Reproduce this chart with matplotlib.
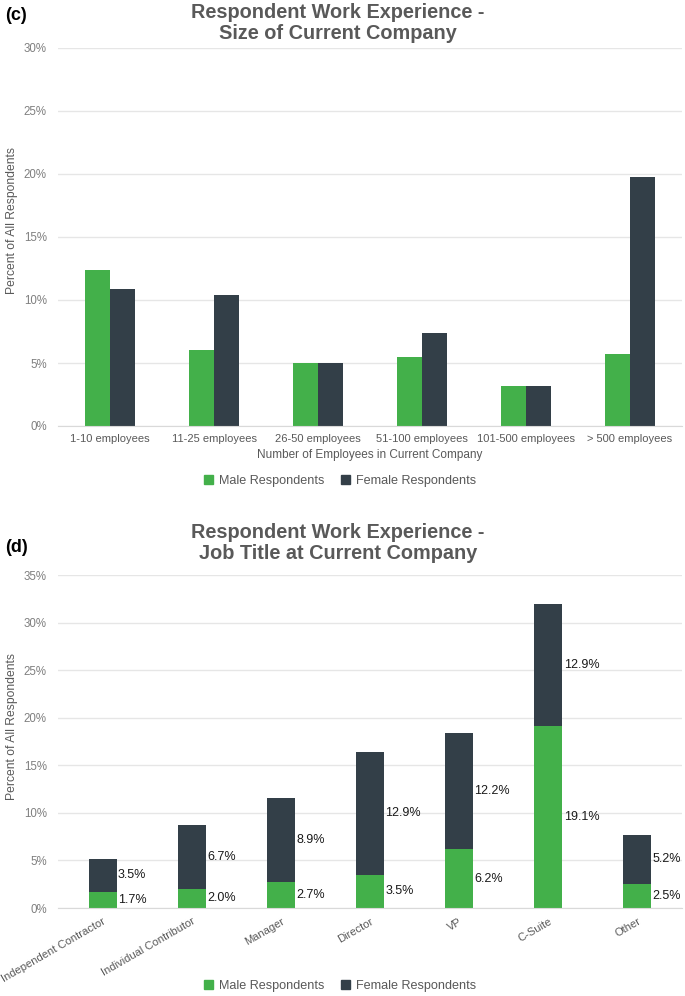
import matplotlib
matplotlib.use('Agg')
import matplotlib.pyplot as plt
import numpy as np
from matplotlib.ticker import FuncFormatter
from matplotlib.patches import Patch

plt.rcParams['font.family'] = ['Liberation Sans', 'DejaVu Sans']

# ---- data: chart (c) company size
size_cats = ['1-10 employees', '11-25 employees', '26-50 employees',
             '51-100 employees', '101-500 employees', '> 500 employees']
size_male = [12.4, 6.0, 5.0, 5.5, 3.2, 5.7]
size_female = [10.9, 10.4, 5.0, 7.4, 3.2, 19.8]

# ---- data: chart (d) job title
job_cats = ['Independent Contractor', 'Individual Contributor', 'Manager',
            'Director', 'VP', 'C-Suite', 'Other']
job_male = [1.7, 2.0, 2.7, 3.5, 6.2, 19.1, 2.5]
job_female = [3.5, 6.7, 8.9, 12.9, 12.2, 12.9, 5.2]

GREEN = '#43b04a'
DARK = '#333f48'
GRID = '#e6e6e6'
TICK = '#7f7f7f'
LAB = '#595959'

W, H = 685, 996
fig = plt.figure(figsize=(W/100, H/100), dpi=100)

def px(x0, y0, x1, y1):
    # pixel box -> figure fraction box
    return [x0/W, 1-y1/H, (x1-x0)/W, (y1-y0)/H]

def style_axes(ax, ymax):
    ax.set_ylim(0, ymax)
    ax.set_yticks(np.arange(0, ymax+0.1, 5))
    ax.yaxis.set_major_formatter(FuncFormatter(lambda v, p: '{:.0f}%'.format(v)))
    ax.grid(axis='y', color=GRID, linewidth=1)
    ax.set_axisbelow(True)
    for s in ['top', 'right', 'left']:
        ax.spines[s].set_visible(False)
    ax.spines['bottom'].set_color('#d9d9d9')
    ax.tick_params(axis='y', length=0, colors=TICK, labelsize=8.3, pad=8)
    ax.tick_params(axis='x', length=0, colors=LAB, labelsize=8, pad=6)

legend_handles = [Patch(color=GREEN, label='Male Respondents'),
                  Patch(color=DARK, label='Female Respondents')]

def add_legend(ycen):
    fig.legend(handles=legend_handles, loc='center', bbox_to_anchor=(340/W, 1-ycen/H),
               ncol=2, frameon=False, fontsize=9.1, handlelength=0.7, handleheight=0.7,
               handletextpad=0.5, columnspacing=1.3, labelcolor=LAB)

# ---------------- (c)
ax1 = fig.add_axes(px(58, 48, 682, 426))
x = np.arange(len(size_cats))
w = 0.24
ax1.bar(x - w/2, size_male, w, color=GREEN)
ax1.bar(x + w/2, size_female, w, color=DARK)
ax1.set_xlim(-0.5, len(size_cats)-0.5)
ax1.set_xticks(x)
ax1.set_xticklabels(size_cats)
style_axes(ax1, 30)

fig.text(338/W, 1-23/H, 'Respondent Work Experience -\nSize of Current Company',
         ha='center', va='center', fontsize=14.3, fontweight='bold', color=LAB,
         linespacing=1.15)
fig.text(5/W, 1-16/H, '(c)', ha='left', va='center', fontsize=13, fontweight='bold')
fig.text(12/W, 1-221/H, 'Percent of All Respondents', rotation=90,
         ha='center', va='center', fontsize=8.7, color=LAB)
fig.text(370/W, 1-455/H, 'Number of Employees in Current Company',
         ha='center', va='center', fontsize=8.5, color=LAB)
add_legend(481)

# ---------------- (d)
ax2 = fig.add_axes(px(58, 575, 682, 908))
x2 = np.arange(len(job_cats))
w2 = 0.315
ax2.bar(x2, job_male, w2, color=GREEN)
ax2.bar(x2, job_female, w2, bottom=job_male, color=DARK)
for i in range(len(job_cats)):
    ax2.text(x2[i] + w2/2 + 0.015, job_male[i]/2, '{:.1f}%'.format(job_male[i]),
             ha='left', va='center', fontsize=9, color='#1a1a1a')
    ax2.text(x2[i] + w2/2 + 0.015, job_male[i] + job_female[i]/2,
             '{:.1f}%'.format(job_female[i]),
             ha='left', va='center', fontsize=9, color='#1a1a1a')
ax2.set_xlim(-0.5, len(job_cats)-0.5)
ax2.set_xticks(x2)
ax2.set_xticklabels(job_cats, rotation=30, ha='right', rotation_mode='anchor',
                    fontsize=7.8)
style_axes(ax2, 35)

fig.text(338/W, 1-543/H, 'Respondent Work Experience -\nJob Title at Current Company',
         ha='center', va='center', fontsize=14.3, fontweight='bold', color=LAB,
         linespacing=1.15)
fig.text(5/W, 1-547/H, '(d)', ha='left', va='center', fontsize=13, fontweight='bold')
fig.text(12/W, 1-727/H, 'Percent of All Respondents', rotation=90,
         ha='center', va='center', fontsize=8.7, color=LAB)
add_legend(986)

fig.savefig('out.png', dpi=100)
